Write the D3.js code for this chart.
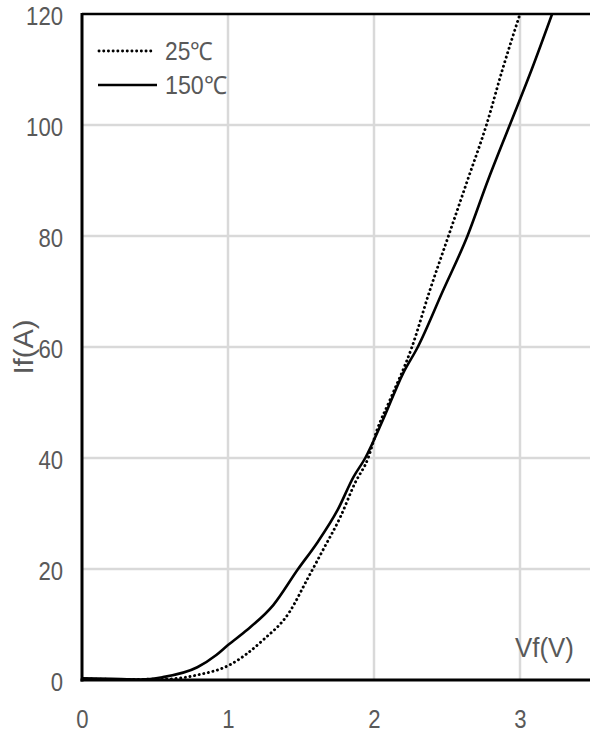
<!DOCTYPE html>
<html>
<head>
<meta charset="utf-8">
<script src="https://cdn.jsdelivr.net/npm/d3@7"></script>
<style>
  body { margin: 0; background: #fff; }
  svg { display: block; }
  text { font-family: "Liberation Sans", "Open Sans", sans-serif; fill: #595959; }
</style>
</head>
<body>
<svg width="590" height="736"></svg>
<script>
// forward characteristic
var vf25  = [0, 0.3, 0.6, 0.79, 1.01, 1.24, 1.42, 1.54, 1.65, 1.77, 1.87, 1.96, 2.02, 2.11, 2.26, 2.38, 2.51, 2.64, 2.77, 2.88, 3.0];
var if25  = [0.2, 0.1, 0.2, 0.9, 2.7, 7.2, 12.2, 18, 23.4, 29.4, 35.5, 40, 45, 50.5, 60, 70, 80, 90, 100, 110, 120];
var vf150 = [0, 0.2, 0.4, 0.55, 0.79, 0.92, 1.0, 1.13, 1.31, 1.48, 1.61, 1.75, 1.86, 1.94, 2.06, 2.20, 2.30, 2.47, 2.64, 2.78, 2.93, 3.08, 3.22];
var if150 = [0.3, 0.2, 0.1, 0.5, 2.3, 4.5, 6.3, 9, 13.5, 20, 24.7, 30.6, 36.6, 40, 46.8, 55.3, 60, 70, 80, 90, 100, 110, 120];
var xTicks = [0, 1, 2, 3];
var yTicks = [0, 20, 40, 60, 80, 100, 120];
var seriesNames = ["25℃", "150℃"];

var svg = d3.select("svg");

var x = d3.scaleLinear().domain([0, 3.5]).range([82, 593]);
var y = d3.scaleLinear().domain([0, 120]).range([680, 14]);

// grid
svg.append("g").selectAll("line")
    .data(xTicks.slice(1))
    .join("line")
    .attr("x1", d => x(d)).attr("x2", d => x(d))
    .attr("y1", y(120)).attr("y2", y(0))
    .attr("stroke", "#d9d9d9").attr("stroke-width", 2.5);
svg.append("g").selectAll("line")
    .data(yTicks.slice(1, -1))
    .join("line")
    .attr("x1", x(0)).attr("x2", 590)
    .attr("y1", d => y(d)).attr("y2", d => y(d))
    .attr("stroke", "#d9d9d9").attr("stroke-width", 2.5);

// tick labels (tall narrow digits, squeezed sideways)
var xa = svg.append("g")
    .attr("transform", "translate(0,680)")
    .call(d3.axisBottom(x).tickValues(xTicks).tickSize(0).tickPadding(30).tickFormat(d3.format("d")));
var ya = svg.append("g")
    .attr("transform", "translate(82,0)")
    .call(d3.axisLeft(y).tickValues(yTicks).tickSize(0).tickPadding(19));
[xa, ya].forEach(function(a) {
    a.select(".domain").remove();
    a.attr("font-family", null).attr("font-size", null);
    a.selectAll("text")
        .style("font-size", "26px").attr("fill", "#595959")
        .attr("textLength", d => String(d).length * 12.3)
        .attr("lengthAdjust", "spacingAndGlyphs");
});
ya.selectAll("text").attr("dy", "0.4em");

// frame
svg.append("line").attr("x1", x(0)).attr("x2", 590).attr("y1", y(120)).attr("y2", y(120))
    .attr("stroke", "#000").attr("stroke-width", 2.5);
svg.append("line").attr("x1", x(0)).attr("x2", x(0)).attr("y1", y(120) - 1).attr("y2", y(0) + 1.5)
    .attr("stroke", "#000").attr("stroke-width", 3);
svg.append("line").attr("x1", x(0) - 1.5).attr("x2", 590).attr("y1", y(0)).attr("y2", y(0))
    .attr("stroke", "#000").attr("stroke-width", 3);

// curves
var line = d3.line()
    .x(d => x(d[0])).y(d => y(d[1]))
    .curve(d3.curveMonotoneX);

var d25 = d3.zip(vf25, if25);
var d150 = d3.zip(vf150, if150);

svg.append("clipPath").attr("id", "clip")
    .append("rect").attr("x", x(0)).attr("y", y(120)).attr("width", 520).attr("height", y(0) - y(120));

svg.append("path").datum(d150)
    .attr("clip-path", "url(#clip)")
    .attr("d", line)
    .attr("fill", "none").attr("stroke", "#000").attr("stroke-width", 2.6);
svg.append("path").datum(d25)
    .attr("clip-path", "url(#clip)")
    .attr("d", line)
    .attr("fill", "none").attr("stroke", "#000").attr("stroke-width", 2.9)
    .attr("stroke-linecap", "round").attr("stroke-dasharray", "0.1 4.6");

// legend
var lg = svg.append("g");
lg.append("line").attr("x1", 99).attr("x2", 152).attr("y1", 51).attr("y2", 51)
    .attr("stroke", "#000").attr("stroke-width", 2.9)
    .attr("stroke-linecap", "round").attr("stroke-dasharray", "0.1 4.6");
lg.append("line").attr("x1", 98).attr("x2", 157).attr("y1", 85).attr("y2", 85)
    .attr("stroke", "#000").attr("stroke-width", 2.6);
lg.selectAll("text").data(seriesNames).join("text")
    .attr("x", 165).attr("y", (d, i) => 60 + i * 34)
    .attr("textLength", (d, i) => i ? 62 : 48)
    .attr("lengthAdjust", "spacingAndGlyphs")
    .style("font-size", "25px")
    .text(d => d);

// axis titles
svg.append("text").attr("x", 515).attr("y", 657)
    .attr("textLength", 59).attr("lengthAdjust", "spacingAndGlyphs")
    .style("font-size", "28px").text("Vf(V)");
svg.append("text")
    .attr("transform", "translate(33,347) rotate(-90)")
    .attr("text-anchor", "middle")
    .attr("textLength", 55).attr("lengthAdjust", "spacingAndGlyphs")
    .style("font-size", "28px")
    .text("If(A)");
</script>
</body>
</html>
